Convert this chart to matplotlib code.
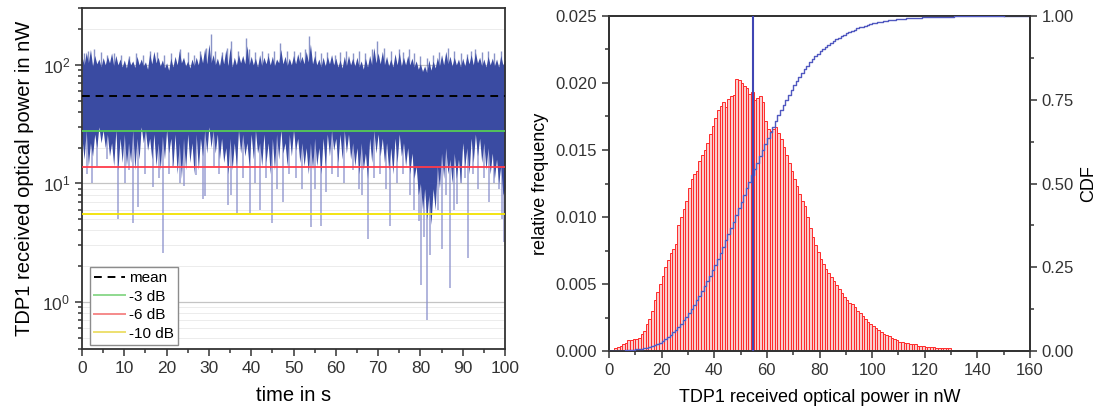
import numpy as np
import matplotlib
matplotlib.use("Agg")
import matplotlib.pyplot as plt
from matplotlib.ticker import MultipleLocator, LogLocator, FormatStrFormatter, NullFormatter
from matplotlib.lines import Line2D

plt.rcParams['font.family'] = ['Liberation Sans', 'DejaVu Sans']

# ---------------- data: time series (0.5 s grid) ----------------
t_half = [i * 0.5 for i in range(201)]
hi_half = [118, 100, 128, 104, 135, 98, 120, 102, 112, 96,
           115, 100, 118, 104, 126, 98, 120, 100, 112, 96,
           110, 94, 116, 100, 108, 95, 118, 100, 112, 98,
           106, 92, 125, 102, 130, 104, 116, 98, 110, 94,
           104, 90, 114, 96, 118, 100, 132, 104, 116, 98,
           108, 94, 112, 98, 116, 100, 126, 104, 138, 102,
           150, 104, 122, 100, 114, 98, 124, 102, 135, 98,
           140, 96, 116, 100, 122, 104, 120, 102, 145, 100,
           118, 100, 114, 96, 122, 98, 116, 102, 120, 100,
           118, 98, 112, 104, 135, 102, 118, 98, 114, 100,
           120, 102, 124, 104, 118, 102, 130, 106, 150, 102,
           120, 100, 112, 96, 116, 98, 118, 102, 122, 100,
           114, 96, 110, 94, 118, 98, 120, 100, 114, 98,
           116, 96, 108, 92, 114, 96, 120, 100, 140, 104,
           126, 102, 130, 100, 118, 98, 112, 96, 124, 100,
           128, 98, 116, 100, 120, 100, 114, 96, 108, 92,
           102, 88, 98, 86, 110, 90, 108, 94, 116, 98,
           122, 100, 130, 102, 118, 98, 116, 100, 112, 96,
           114, 98, 120, 102, 122, 100, 128, 104, 116, 98,
           112, 96, 118, 100, 114, 98, 112, 96, 120, 100,
           110]
lo_half = [24, 16, 28, 14, 22, 17, 26, 20, 30, 22,
           28, 20, 26, 17, 22, 14, 28, 13, 24, 15,
           26, 14, 22, 15, 28, 13, 24, 16, 30, 22,
           28, 19, 24, 16, 26, 14, 22, 13, 25, 16,
           28, 18, 24, 14, 26, 12, 22, 11, 24, 13,
           26, 15, 22, 12, 26, 13, 24, 17, 28, 18,
           30, 20, 28, 18, 26, 16, 24, 15, 20, 12,
           24, 13, 22, 14, 28, 18, 26, 17, 22, 14,
           26, 16, 28, 18, 22, 14, 26, 15, 22, 12,
           24, 13, 26, 16, 28, 18, 22, 14, 26, 17,
           28, 19, 24, 15, 22, 14, 20, 12, 22, 13,
           24, 14, 20, 12, 24, 14, 26, 17, 28, 19,
           24, 15, 26, 16, 28, 18, 26, 16, 22, 14,
           20, 12, 22, 13, 18, 11, 24, 15, 28, 18,
           26, 17, 24, 15, 22, 13, 20, 12, 24, 15,
           26, 17, 22, 14, 20, 12, 18, 11, 14, 8,
           10, 6, 9, 5, 8, 4.5, 9, 6, 14, 9,
           18, 11, 20, 12, 16, 10, 18, 11, 16, 10,
           22, 14, 20, 12, 24, 15, 26, 17, 24, 15,
           22, 13, 20, 12, 18, 11, 16, 10, 14, 8,
           9]
dip_t = [1.2, 2.4, 3.5, 5.8, 8.6, 10.2, 11.0, 12.1, 13.3, 15.0, 16.8, 18.2, 19.2,
         20.5, 21.6, 23.1, 24.2, 26.9, 28.5, 29.1, 31.2, 32.5, 34.6, 35.2, 36.6,
         38.0, 39.7, 41.0, 42.1, 43.5, 44.8, 46.0, 47.4, 49.0, 50.5, 52.0, 54.1,
         55.2, 56.6, 57.7, 59.0, 60.6, 62.0, 64.0, 65.5, 66.3, 67.6, 69.0, 70.5,
         71.8, 72.8, 74.5, 76.0, 77.5, 78.6, 79.6, 80.1, 80.8, 81.6, 82.3, 83.2,
         84.2, 85.0, 86.0, 87.0, 88.0, 88.6, 89.5, 90.5, 91.3, 92.5, 93.6, 95.0,
         96.2, 97.3, 98.5, 99.3, 99.8]
dip_v = [12, 10, 14, 16, 5.0, 10, 13, 4.6, 6.3, 12, 9.3, 11, 2.6,
         12, 14, 10, 9.5, 11.7, 7.4, 7.8, 14, 12, 6.6, 8, 5.6,
         11, 5.6, 10, 6.0, 11, 4.6, 9, 7.0, 12, 11, 9, 4.3,
         9, 4.4, 8.4, 12, 11.3, 10, 13, 9, 8, 3.4, 11, 12,
         9, 4.4, 10, 12, 8, 6, 4.8, 1.4, 3.5, 0.70, 2.5, 9,
         6, 2.8, 8, 1.3, 6, 6.7, 10, 11, 2.35, 12, 9, 11,
         7, 10, 9, 5, 3.2]
peak_t = [0.5, 1.5, 2.8, 4.5, 6.0, 7.6, 9.3, 11.0, 12.8, 14.5, 16.1, 17.8, 19.5,
          21.0, 23.2, 25.0, 26.5, 28.0, 29.3, 30.4, 31.5, 33.0, 34.3, 35.2, 36.8,
          38.7, 39.5, 41.0, 42.5, 44.0, 45.5, 46.8, 48.5, 50.0, 51.5, 52.8, 53.7,
          55.0, 56.5, 58.0, 59.8, 61.0, 62.5, 64.0, 65.5, 67.0, 68.5, 69.7, 71.3,
          73.0, 74.9, 76.0, 77.2, 78.5, 80.0, 81.5, 83.0, 84.5, 86.6, 88.0, 89.5,
          91.0, 92.0, 93.0, 94.5, 96.0, 97.5, 99.0]
peak_v = [125, 130, 135, 128, 122, 127, 120, 118, 125, 122, 131, 128, 120,
          125, 135, 128, 122, 130, 140, 181, 130, 128, 140, 160, 130,
          169, 135, 128, 132, 125, 130, 154, 130, 132, 128, 135, 175,
          130, 125, 128, 120, 128, 132, 126, 130, 125, 135, 159, 140,
          130, 135, 128, 135, 125, 118, 115, 122, 128, 138, 130, 125,
          124, 130, 135, 128, 130, 125, 131]
mean_power = 54.7
level_labels = ['mean', '-3 dB', '-6 dB', '-10 dB']
level_values = [54.7, 27.4, 13.7, 5.47]

# ---------------- data: histogram (1 nW bins, 0..150 nW) ----------------
bin_left = list(range(0, 150))
rel_freq_e4 = [1, 1, 2, 3, 4, 5, 6, 8, 8, 9,
               9, 10, 13, 15, 20, 24, 30, 38, 44, 50,
               56, 63, 68, 73, 76, 80, 94, 100, 106, 112,
               122, 128, 132, 134, 142, 146, 150, 155, 162, 168,
               174, 180, 183, 186, 182, 188, 190, 191, 203, 202,
               200, 198, 196, 192, 193, 187, 189, 190, 186, 172,
               166, 164, 166, 167, 163, 158, 152, 146, 140, 134,
               128, 123, 117, 112, 108, 100, 92, 85, 79, 74,
               69, 65, 61, 58, 55, 52, 49, 46, 43, 40,
               38, 36, 35, 33, 30, 28, 26, 24, 22, 20,
               19, 17, 16, 14, 13, 12, 11, 10, 9, 8,
               7, 7, 6, 6, 5, 5, 5, 4, 4, 4,
               3, 3, 3, 3, 2, 2, 2, 2, 2, 2,
               1, 1, 1, 1, 1, 1, 1, 1, 1, 1,
               1, 1, 0.5, 0.5, 0.4, 0.4, 0.3, 0.3, 0.3, 0.3]

# ---------------- figure ----------------
W, H = 1098, 409
fig = plt.figure(figsize=(W / 100, H / 100), dpi=100)

def frac(x0, y0, x1, y1):
    return [x0 / W, 1 - y1 / H, (x1 - x0) / W, (y1 - y0) / H]

dark = '#3a4ba2'
light = '#8a90cc'
spine_c = '#333333'

# ---- left panel ----
ax = fig.add_axes(frac(82, 8.3, 505, 349))
ax.set_yscale('log')
ax.set_xlim(0, 100)
ax.set_ylim(0.4, 300)
ax.yaxis.set_major_locator(LogLocator(base=10))
ax.yaxis.set_minor_locator(LogLocator(base=10, subs=np.arange(2, 10)))
ax.yaxis.set_minor_formatter(NullFormatter())
ax.grid(True, which='major', axis='y', color='#c4c4c4', lw=0.9, zorder=0)
ax.grid(True, which='minor', axis='y', color='#ececec', lw=0.7, zorder=0)
ax.set_axisbelow(True)

ax.vlines(dip_t, dip_v, [mean_power] * len(dip_t), color=light, lw=1.1, alpha=0.85, zorder=1)
ax.vlines(peak_t, [mean_power] * len(peak_t), peak_v, color=dark, lw=1.0, alpha=0.6, zorder=1)
ax.fill_between(t_half, lo_half, hi_half, color=dark, lw=0, zorder=2)

lvl_colors = ['black', '#55cc55', '#ff3a4a', '#f2e200']
leg_colors = ['black', '#8fd98f', '#f58a8a', '#ede070']
for lbl, v, c in zip(level_labels, level_values, lvl_colors):
    ax.axhline(v, color=c, lw=1.4 if lbl == 'mean' else 1.3,
               ls=(0, (4, 3)) if lbl == 'mean' else '-', zorder=4)
handles = [Line2D([], [], color=c, lw=1.4, ls=(0, (4, 3)) if l == 'mean' else '-')
           for l, c in zip(level_labels, leg_colors)]
leg = ax.legend(handles, level_labels, loc='lower left', bbox_to_anchor=(0.02, 0.013),
                borderaxespad=0, fontsize=11, frameon=True, fancybox=False,
                edgecolor='#8c8c8c', framealpha=1, handlelength=2.0,
                handletextpad=0.3, labelspacing=0.3, borderpad=0.25)
leg.get_frame().set_linewidth(1.0)
leg.set_zorder(6)

ax.xaxis.set_major_locator(MultipleLocator(10))
ax.xaxis.set_minor_locator(MultipleLocator(5))
ax.tick_params(which='both', direction='out', labelsize=12.5, colors=spine_c, width=1.1)
ax.tick_params(which='major', length=5)
ax.tick_params(which='minor', length=3)
ax.set_xlabel('time in s', fontsize=14.5, labelpad=7)
ax.set_ylabel('TDP1 received optical power in nW', fontsize=14.5, labelpad=6)
for s in ax.spines.values():
    s.set_color(spine_c)
    s.set_linewidth(1.3)

# ---- right panel ----
bx = fig.add_axes(frac(609, 16, 1030, 351))
freq = np.array(rel_freq_e4) * 1e-4
bx.bar(bin_left, freq, width=1.0, align='edge', facecolor='#f9cdcd',
       edgecolor='#ff2a2a', linewidth=0.7, zorder=2)
bx.set_xlim(0, 160)
bx.set_ylim(0, 0.025)
bx.xaxis.set_major_locator(MultipleLocator(20))
bx.xaxis.set_minor_locator(MultipleLocator(10))
bx.yaxis.set_major_locator(MultipleLocator(0.005))
bx.yaxis.set_minor_locator(MultipleLocator(0.0025))
bx.yaxis.set_major_formatter(FormatStrFormatter('%.3f'))
bx.tick_params(which='both', direction='out', labelsize=12, colors=spine_c, width=1.1)
bx.tick_params(which='major', length=5)
bx.tick_params(which='minor', length=3)
bx.set_xlabel('TDP1 received optical power in nW', fontsize=13, labelpad=8)
bx.set_ylabel('relative frequency', fontsize=13, labelpad=5)

cx = bx.twinx()
cdf = np.cumsum(freq) / np.sum(freq)
edges = np.array(bin_left + [bin_left[-1] + 1])
cx.step(edges, np.concatenate([[0.0], cdf]), where='post', color='#5058c0', lw=1.0, zorder=3)
cx.plot([edges[-1], 160], [1, 1], color='#5058c0', lw=1.0)
cx.axvline(mean_power, color='#4046b4', lw=1.5, zorder=4)
cx.set_ylim(0, 1)
cx.yaxis.set_major_locator(MultipleLocator(0.25))
cx.yaxis.set_minor_locator(MultipleLocator(0.125))
cx.yaxis.set_major_formatter(FormatStrFormatter('%.2f'))
cx.tick_params(which='both', direction='out', labelsize=12, colors=spine_c, width=1.1)
cx.tick_params(which='major', length=5)
cx.tick_params(which='minor', length=3)
cx.set_ylabel('CDF', fontsize=13, labelpad=4)
for a in (bx, cx):
    for s in a.spines.values():
        s.set_color(spine_c)
        s.set_linewidth(1.3)

fig.savefig('out.png', dpi=100)
